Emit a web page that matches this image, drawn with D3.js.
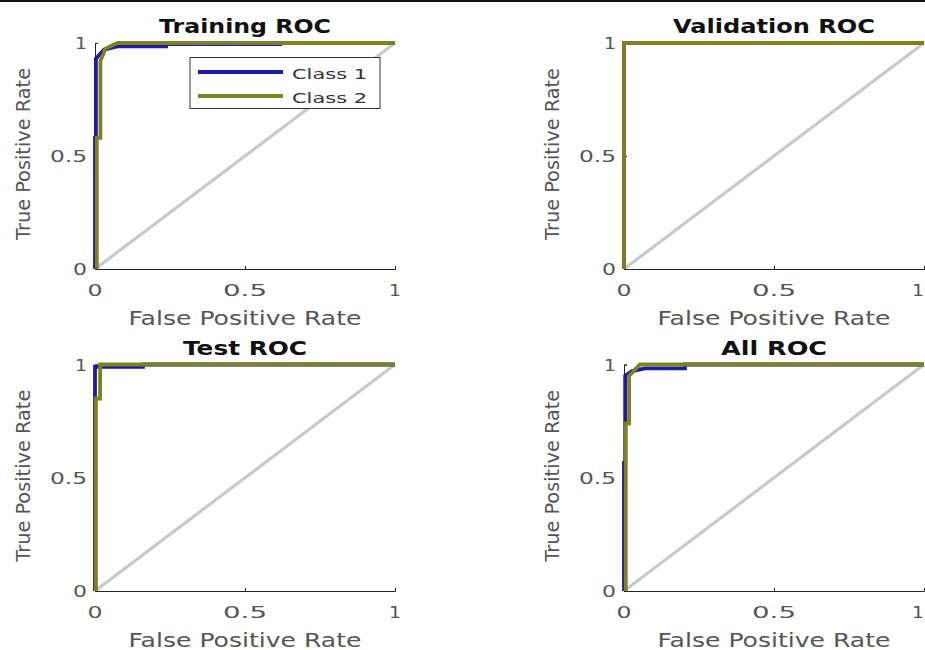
<!DOCTYPE html>
<html>
<head>
<meta charset="utf-8">
<script src="https://cdn.jsdelivr.net/npm/d3@7"></script>
<style>
  body{margin:0;background:#fff}
  svg{display:block}
  text{font-family:"DejaVu Sans",sans-serif}
</style>
</head>
<body>
<svg id="stage" width="925" height="650"></svg>
<script>
// ---- data ----
const PANEL_TITLES = ["Training ROC", "Validation ROC", "Test ROC", "All ROC"];
const CLASS_NAMES  = ["Class 1", "Class 2"];
const TICKS        = [0, 0.5, 1];
const TICK_LABELS  = ["0", "0.5", "1"];

// [fpr, tpr] per class and panel
const trainC1Fpr = [0, 0, 0.003, 0.003, 0.03, 0.075, 0.237, 0.237, 0.617, 0.617, 1];
const trainC1Tpr = [0, 0.58, 0.58, 0.93, 0.97, 0.985, 0.985, 0.995, 0.995, 1, 1];
const trainC2Fpr = [0.006, 0.006, 0.018, 0.018, 0.035, 0.075, 1];
const trainC2Tpr = [0, 0.58, 0.58, 0.92, 0.975, 1, 1];

const valC1Fpr = [0, 0, 1];
const valC1Tpr = [0, 1, 1];
const valC2Fpr = [0, 0, 1];
const valC2Tpr = [0, 1, 1];

const testC1Fpr = [0, 0, 0.16, 0.16, 1];
const testC1Tpr = [0, 0.99, 0.99, 1, 1];
const testC2Fpr = [0.003, 0.003, 0.017, 0.017, 1];
const testC2Tpr = [0, 0.85, 0.85, 1, 1];

const allC1Fpr = [0, 0, 0.004, 0.004, 0.027, 0.07, 0.203, 0.203, 1];
const allC1Tpr = [0, 0.566, 0.566, 0.95, 0.971, 0.983, 0.983, 1, 1];
const allC2Fpr = [0.006, 0.006, 0.017, 0.017, 0.043, 0.053, 1];
const allC2Tpr = [0, 0.74, 0.74, 0.95, 0.986, 1, 1];

const CURVES = [
  [[trainC1Fpr, trainC1Tpr], [trainC2Fpr, trainC2Tpr]],
  [[valC1Fpr, valC1Tpr], [valC2Fpr, valC2Tpr]],
  [[testC1Fpr, testC1Tpr], [testC2Fpr, testC2Tpr]],
  [[allC1Fpr, allC1Tpr], [allC2Fpr, allC2Tpr]]
];

// ---- layout / style ----
const COLORS = ["#1b1ba6", "#808020"];
const COLS = [[95, 395], [624, 924]];
const ROWS = [[269, 43], [591, 364.5]];
const TITLE_W = [172, 202, 124, 106];

const svg = d3.select("#stage");

// screenshot border line at the very top
svg.append("rect").attr("x", 0).attr("y", 0).attr("width", 925).attr("height", 2).attr("fill", "#111");

function txt(g, s, x, y, o){
  const t = g.append("text")
    .attr("x", x).attr("y", y)
    .attr("font-size", o.size)
    .attr("fill", o.fill || "#555")
    .attr("text-anchor", o.anchor || "middle")
    .text(s);
  if (o.bold) t.attr("font-weight", "bold");
  if (o.w) t.attr("textLength", o.w).attr("lengthAdjust", "spacingAndGlyphs");
  if (o.rotate) t.attr("transform", `rotate(-90,${x},${y})`);
  return t;
}

PANEL_TITLES.forEach((title, i) => {
  const [x0, x1] = COLS[i % 2];
  const [y0, y1] = ROWS[Math.floor(i / 2)];
  const x = d3.scaleLinear().domain([0, 1]).range([x0, x1]);
  const y = d3.scaleLinear().domain([0, 1]).range([y0, y1]);
  const g = svg.append("g");

  // chance diagonal
  g.append("line")
    .attr("x1", x(0)).attr("y1", y(0)).attr("x2", x(1)).attr("y2", y(1))
    .attr("stroke", "#cacaca").attr("stroke-width", 3.2);

  // axes
  const ax = g.append("g").attr("transform", `translate(0,${y0})`)
    .call(d3.axisBottom(x).tickValues(TICKS).tickSize(-3).tickFormat(""));
  const ay = g.append("g").attr("transform", `translate(${x0},0)`)
    .call(d3.axisLeft(y).tickValues(TICKS).tickSize(-3).tickFormat(""));
  [ax, ay].forEach(a => {
    a.select(".domain").attr("stroke", "#262626");
    a.selectAll(".tick line").attr("stroke", "#262626");
  });

  // curves
  const line = d3.line().x(d => x(d[0])).y(d => y(d[1]));
  CURVES[i].forEach(([fpr, tpr], c) => {
    g.append("path")
      .datum(fpr.map((f, k) => [f, tpr[k]]))
      .attr("d", line)
      .attr("fill", "none")
      .attr("stroke", COLORS[c])
      .attr("stroke-width", 3.8);
  });

  // tick labels (right column's "1" sits at the window edge, nudge it in)
  TICKS.forEach((v, k) => {
    const wx = [15, 44, 12][k];
    const tx = (i % 2 === 1 && v === 1) ? x(v) - 6 : x(v);
    txt(g, TICK_LABELS[k], tx, y0 + 26.5, {size: 16, w: wx});
    const wy = [14, 37, 12][k];
    txt(g, TICK_LABELS[k], x0 - 8, y(v) + 6, {size: 16, w: wy, anchor: "end"});
  });

  // title and axis labels
  txt(g, title, (x0 + x1) / 2, y1 - 10, {size: 20, bold: true, fill: "#111", w: TITLE_W[i]});
  txt(g, "False Positive Rate", (x0 + x1) / 2, y0 + 55.5, {size: 19, w: 233});
  txt(g, "True Positive Rate", x0 - 65, (y0 + y1) / 2 - 2, {size: 19, w: 172, rotate: true});

  // legend (training panel only)
  if (i === 0) {
    const lg = g.append("g");
    lg.append("rect")
      .attr("x", x0 + 95).attr("y", 57.5).attr("width", 190).attr("height", 51)
      .attr("fill", "#fff").attr("stroke", "#333").attr("stroke-width", 1);
    CLASS_NAMES.forEach((name, c) => {
      const ly = 72 + c * 24;
      lg.append("line")
        .attr("x1", x0 + 103).attr("x2", x0 + 188).attr("y1", ly).attr("y2", ly)
        .attr("stroke", COLORS[c]).attr("stroke-width", 3.8);
      txt(lg, name, x0 + 197, ly + 7, {size: 14, anchor: "start", fill: "#333", w: 75});
    });
  }
});
</script>
</body>
</html>
